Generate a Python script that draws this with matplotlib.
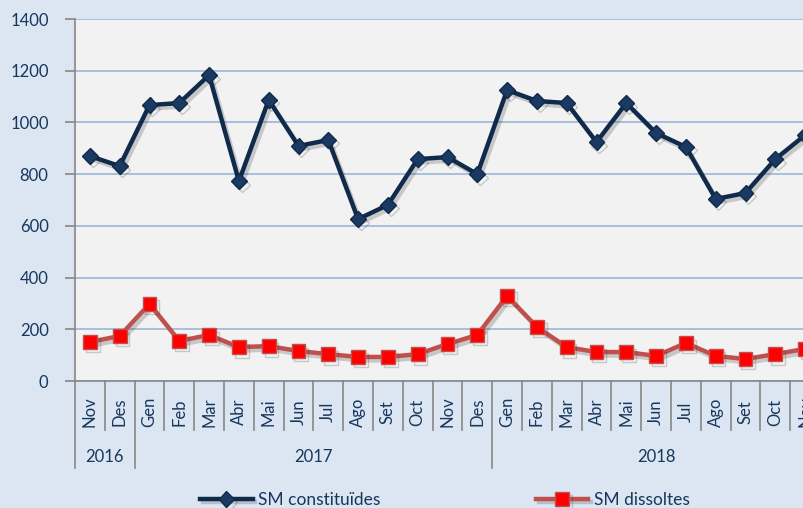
import matplotlib
matplotlib.use("Agg")
import matplotlib.pyplot as plt
import matplotlib.patheffects as pe
from matplotlib.lines import Line2D

months = ["Nov", "Des", "Gen", "Feb", "Mar", "Abr", "Mai", "Jun", "Jul", "Ago", "Set", "Oct", "Nov", "Des",
          "Gen", "Feb", "Mar", "Abr", "Mai", "Jun", "Jul", "Ago", "Set", "Oct", "Nov"]
years = ["2016", "2017", "2018"]
year_spans = [(0, 2), (2, 14), (14, 25)]
constituides = [870, 831, 1067, 1075, 1183, 773, 1087, 909, 932, 626, 681, 858, 866, 800,
                1125, 1083, 1075, 924, 1075, 959, 905, 704, 727, 858, 951]
dissoltes = [151, 174, 298, 155, 178, 131, 135, 116, 104, 93, 93, 104, 143, 178,
             329, 209, 131, 112, 112, 97, 147, 97, 85, 104, 124]
yticks = [0, 200, 400, 600, 800, 1000, 1200, 1400]

plt.rcParams['font.family'] = ['Lato', 'DejaVu Sans']
txt = '#17375E'
W, H = 804, 508
fig = plt.figure(figsize=(W / 100, H / 100), dpi=100)
fig.patch.set_facecolor('#DCE6F2')

left, right, top, bottom = 75, 820, 19, 381
ax = fig.add_axes([left / W, (H - bottom) / H, (right - left) / W, (bottom - top) / H])
ax.set_facecolor('#F2F2F2')

x = list(range(len(months)))
shadow = [pe.SimpleLineShadow(offset=(2, -2.5), shadow_color='#303030', alpha=0.22), pe.Normal()]
ax.plot(x, constituides, color='#0F2A4A', lw=3.2, marker='D', ms=8, mfc='#1B3A63', mec='#0F2A4A',
        mew=1, path_effects=shadow, zorder=4, label='SM constituïdes')
ax.plot(x, dissoltes, color='#C0504D', lw=3.2, marker='s', ms=10, mfc='#FF0000', mec='#C0504D',
        mew=1, path_effects=shadow, zorder=4, label='SM dissoltes')

ax.set_xlim(-0.5, len(months) - 0.5)
ax.set_ylim(0, 1400)
ax.set_yticks(yticks)
ax.set_yticklabels([str(v) for v in yticks], fontsize=12, color=txt)
ax.yaxis.grid(True, color='#9BB7D9', lw=1.2)
ax.set_axisbelow(True)
ax.tick_params(axis='y', length=7, color='#868686', width=1.2, pad=12)
ax.set_xticks([])
for s in ['top', 'right']:
    ax.spines[s].set_visible(False)
for s in ['left', 'bottom']:
    ax.spines[s].set_color('#868686')
    ax.spines[s].set_linewidth(1.2)

ph = bottom - top
trans = ax.get_xaxis_transform()
month_sep_y = (bottom - 430) / ph
year_sep_y = (bottom - 468) / ph
for i in range(len(months)):
    ax.text(i, (bottom - 412) / ph, months[i], rotation=90, ha='center', va='center',
            fontsize=12, color=txt, transform=trans, clip_on=False)
year_bounds = set()
for a, b in year_spans:
    year_bounds.add(a)
    year_bounds.add(b)
for i in range(len(months) + 1):
    yb = year_sep_y if i in year_bounds else month_sep_y
    ax.add_line(Line2D([i - 0.5, i - 0.5], [0, yb], transform=trans, color='#868686', lw=1.2, clip_on=False))
for (a, b), yr in zip(year_spans, years):
    ax.text((a + b - 1) / 2, (bottom - 457) / ph, yr, ha='center', va='center',
            fontsize=12, color=txt, transform=trans, clip_on=False)

leg = fig.legend(loc='center', bbox_to_anchor=(445 / W, 1 - 500 / H), ncol=2, frameon=False,
                 fontsize=12.5, handlelength=3.0, columnspacing=9.0, handletextpad=0.3)
for t in leg.get_texts():
    t.set_color(txt)

fig.savefig('out.png', dpi=100, facecolor=fig.get_facecolor())
